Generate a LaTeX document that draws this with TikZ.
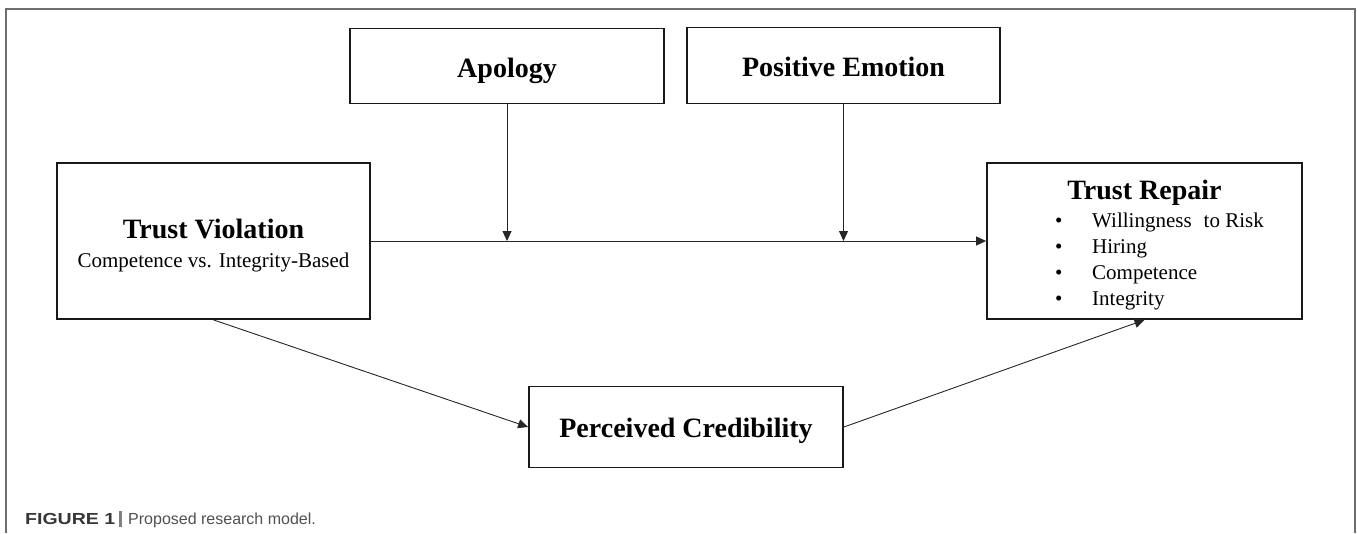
\documentclass[tikz,border=0pt]{standalone}
\usepackage{fontspec}
\setmainfont{Liberation Serif}
\newfontfamily\capfont{Liberation Sans}
\usepackage{xcolor}
\usetikzlibrary{arrows.meta}
\definecolor{framegray}{RGB}{110,110,110}
\definecolor{capdark}{RGB}{55,55,55}
\definecolor{capgray}{RGB}{80,80,80}

\begin{document}
\begin{tikzpicture}[x=1pt,y=-1pt,
        box/.style={draw=black!90,line width=1.8pt,inner sep=0pt},
        boxtitle/.style={font=\fontsize{28}{32}\selectfont\bfseries,inner sep=0pt,anchor=base},
        boxtext/.style={font=\fontsize{21}{25}\selectfont,inner sep=0pt},
        link/.style={draw=black!85,line width=0.9pt,-{Triangle[length=10pt,width=9pt]}}]
        \useasboundingbox (0,0) rectangle (1357,533);
        % outer frame
        \draw[framegray,line width=1.2pt] (6,533) -- (6,9) -- (1355,9) -- (1355,533);
        % moderators
        \node[box,minimum width=314pt,minimum height=75pt] (apology) at (507,66) {};
        \node[boxtitle] (apology-title) at (507,77) {Apology};
        \node[box,minimum width=313pt,minimum height=76pt] (emotion) at (843.5,65.5) {};
        \node[boxtitle] (emotion-title) at (843.5,76) {Positive Emotion};
        % independent variable
        \node[box,minimum width=313pt,minimum height=156pt] (violation) at (213.5,241) {};
        \node[boxtitle] (violation-title) at (213.5,238) {Trust Violation};
        \node[boxtext,anchor=base] (violation-sub) at (213.5,267) {Competence vs. Integrity-Based};
        % dependent variable
        \node[box,minimum width=315pt,minimum height=156pt] (repair) at (1144.5,241) {};
        \node[boxtitle] (repair-title) at (1144.5,199) {Trust Repair};
        \foreach \lbl [count=\k] in {Willingness\hspace{12pt}to Risk,Hiring,Competence,Integrity} {
            \node[boxtext,anchor=base west] (repair-item\k) at (1055,201+26*\k) {\makebox[37pt][l]{\textbullet}\lbl};
        }
        % mediator
        \node[box,minimum width=314pt,minimum height=81pt] (credibility) at (686,427) {};
        \node[boxtitle] (credibility-title) at (686,437) {Perceived Credibility};
        % paths
        \coordinate (apology-hit) at (apology.south |- violation.east);
        \coordinate (emotion-hit) at (emotion.south |- violation.east);
        \draw[link] (violation.east) -- (repair.west);
        \draw[link] (apology.south) -- (apology-hit);
        \draw[link] (emotion.south) -- (emotion-hit);
        \draw[link] (violation.south) -- (credibility.west);
        \draw[link] (credibility.east) -- (repair.south);
        % caption
        \node[anchor=base west,inner sep=0pt,font=\capfont\fontsize{16}{19}\selectfont,text=capgray] (caption) at (25,524)
            {\textcolor{capdark}{\scalebox{1.22}[1]{\bfseries FIGURE 1}}\hspace{4pt}\textcolor{gray}{\rule[-3pt]{3pt}{16pt}}\hspace{6pt}Proposed research model.};
    \end{tikzpicture}
\end{document}
